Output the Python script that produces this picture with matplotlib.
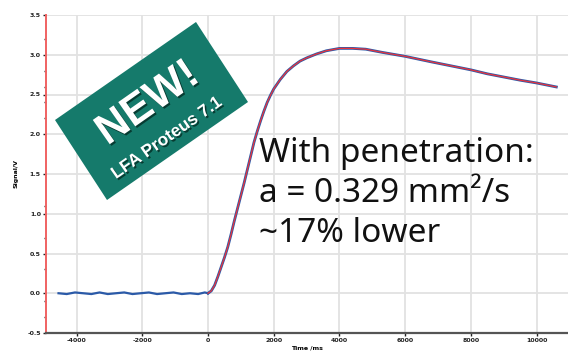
import matplotlib
matplotlib.use("Agg")
import matplotlib.pyplot as plt
from matplotlib.patches import Polygon
import matplotlib.patheffects as pe

# ---- data ----
base_t = [-4550, -4300, -4050, -3800, -3550, -3300, -3050, -2800, -2550, -2300,
          -2050, -1800, -1550, -1300, -1050, -800, -550, -300, -100, 0]
base_v = [0.00, -0.01, 0.01, 0.00, -0.01, 0.01, -0.01, 0.00, 0.01, -0.01,
          0.00, 0.01, -0.01, 0.00, 0.01, -0.01, 0.00, -0.01, 0.01, 0.00]

fit_t = [0, 100, 200, 300, 400, 500, 600, 700, 800, 900, 1000, 1100, 1200, 1300,
         1400, 1500, 1600, 1700, 1800, 1900, 2000, 2200, 2400, 2600, 2800, 3000,
         3300, 3600, 4000, 4400, 4800, 5300, 6000, 6800, 7400, 8000, 8500, 9000,
         9500, 10000, 10600]
fit_v = [0.00, 0.03, 0.10, 0.21, 0.33, 0.45, 0.58, 0.74, 0.91, 1.07, 1.23, 1.39,
         1.56, 1.73, 1.90, 2.04, 2.17, 2.29, 2.40, 2.49, 2.57, 2.69, 2.79, 2.86,
         2.92, 2.96, 3.01, 3.05, 3.08, 3.08, 3.07, 3.03, 2.98, 2.91, 2.86, 2.81,
         2.76, 2.72, 2.68, 2.645, 2.595]

x_ticks = [-4000, -2000, 0, 2000, 4000, 6000, 8000, 10000]
y_ticks = [-0.5, 0.0, 0.5, 1.0, 1.5, 2.0, 2.5, 3.0, 3.5]
y_minor = [-0.3, -0.1, 0.3, 0.7, 1.1, 2.2, 2.4, 2.6, 2.8, 3.2]

W, H = 568, 356
fig = plt.figure(figsize=(W / 100, H / 100), dpi=100)
ax = fig.add_axes([45.7 / W, 23 / H, 1 - 45.7 / W, (333 - 15) / H])

blue = "#2b5aa8"
red = "#e8343c"
ax.plot(base_t, base_v, color=blue, lw=1.6, zorder=3)
ax.plot(fit_t, fit_v, color=blue, lw=2.0, zorder=3)
ax.plot(fit_t, fit_v, color=red, lw=0.9, zorder=4)

ax.set_xlim(-4940, 10955)
ax.set_ylim(-0.5, 3.5)
ax.set_xticks(x_ticks)
ax.set_xticklabels([str(v) for v in x_ticks])
ax.set_yticks(y_ticks)
ax.set_yticklabels([f"{v:.1f}" for v in y_ticks])
ax.set_yticks(y_minor, minor=True)
ax.grid(True, color="#e2e2e2", lw=1.3, zorder=0)
ax.set_axisbelow(True)

for s in ["top", "right"]:
    ax.spines[s].set_visible(False)
ax.spines["left"].set_color("#f06262")
ax.spines["left"].set_linewidth(1.4)
ax.spines["bottom"].set_color("#555555")
ax.spines["bottom"].set_linewidth(1.6)

ax.tick_params(axis="both", which="major", labelsize=4.5, colors="#222222",
               length=2, width=1, pad=1.5)
ax.tick_params(axis="y", which="minor", length=1.5, width=1, colors="#222222")
for lab in ax.get_xticklabels() + ax.get_yticklabels():
    lab.set_fontweight("bold")

ax.set_xlabel("Time /ms", fontsize=4.5, fontweight="bold", labelpad=2)
ax.set_ylabel("Signal/V", fontsize=4.5, fontweight="bold", labelpad=6)


def fp(x, y):
    return (x / W, 1 - y / H)


# ---- green badge ----
corners = [fp(55, 120), fp(196, 22), fp(248, 102), fp(107, 200)]
badge = Polygon(corners, closed=True, transform=fig.transFigure,
                facecolor="#157a6b", edgecolor="none", zorder=5)
fig.patches.append(badge)

shadow = [pe.withSimplePatchShadow(offset=(1.2, -1.2), shadow_rgbFace="#06352c", alpha=0.9)]
fig.text(*fp(148, 104), "NEW!", rotation=35, rotation_mode="anchor",
         ha="center", va="center", color="white", fontsize=31,
         fontweight="bold", family="Liberation Sans", zorder=6, path_effects=shadow)
fig.text(*fp(167, 138), "LFA Proteus 7.1", rotation=35, rotation_mode="anchor",
         ha="center", va="center", color="white", fontsize=12.5,
         fontweight="bold", family="Liberation Sans", zorder=6, path_effects=shadow)

# ---- annotation text ----
for i, line in enumerate(["With penetration:", "a = 0.329 mm²/s", "~17% lower"]):
    fig.text(259 / W, 1 - (162 + 40 * i) / H, line, fontsize=24,
             color="#111111", ha="left", va="baseline", family="Noto Sans")

fig.savefig("out.png", dpi=100)
